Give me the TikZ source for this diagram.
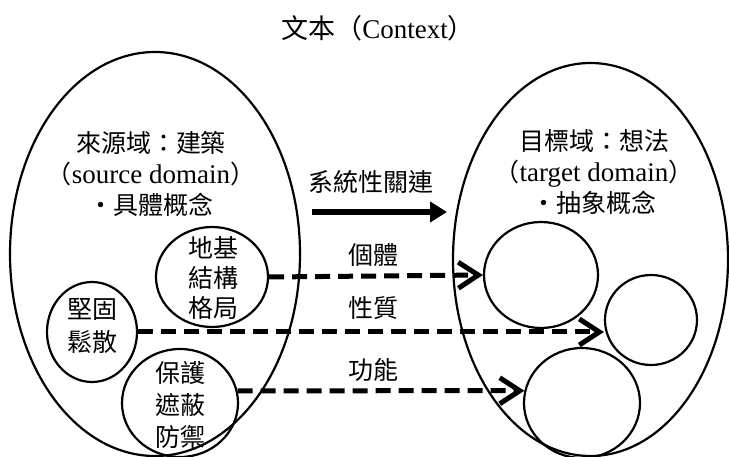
\documentclass[tikz,border=0pt]{standalone}
\usepackage{fontspec}
\setmainfont{Liberation Serif}
\newfontfamily\cjk{Noto Sans CJK TC}
\usetikzlibrary{arrows.meta,shapes.geometric}
\newcommand{\latn}[1]{{\fontsize{27}{31}\selectfont #1}}
\begin{document}
\begin{tikzpicture}[x=1pt,y=-1pt,
  dom/.style={draw, ellipse, line width=2.2pt, inner sep=0pt},
  sub/.style={draw, ellipse, line width=2.2pt, inner sep=0pt},
  lbl/.style={font=\fontsize{25}{31}\selectfont, align=center, inner sep=0pt},
  zh/.style={font=\cjk\fontsize{25}{#1}\selectfont, align=center, inner sep=0pt},
  zh/.default=31,
  dasharrow/.style={line width=5pt, dash pattern=on 15pt off 8pt, -{Straight Barb[length=20pt,width=26pt]}},
]
\useasboundingbox (0,0) rectangle (729,457);
% domains
\node[dom, minimum width=290pt, minimum height=404pt] (L) at (155,254) {};
\node[dom, minimum width=275pt, minimum height=393pt] (R) at (590.5,259.5) {};
% source circles
\node[sub, minimum width=112pt, minimum height=100pt] (c1) at (212,277) {};
\node[sub, minimum width=90pt, minimum height=100pt] (c2) at (92,332) {};
\node[sub, minimum width=116pt, minimum height=108pt] (c3) at (180,403) {};
% target circles
\node[sub, minimum width=114pt, minimum height=106pt] (t1) at (541,275) {};
\node[sub, minimum width=92pt, minimum height=90pt] (t2) at (651,320) {};
\node[sub, minimum width=116pt, minimum height=110pt] (t3) at (582,403) {};
% texts
\node[lbl, font=\fontsize{27}{31}\selectfont] (title) at (378,28) {{\cjk 文本（}Context{\cjk ）}};
\node[lbl] (srclbl) at (151,174) {{\cjk 來源域：建築}\\{\cjk （}\latn{source domain}{\cjk ）}\\{\cjk ・具體概念}};
\node[lbl] (tgtlbl) at (594,172) {{\cjk 目標域：想法}\\{\cjk （}\latn{target domain}{\cjk ）}\\{\cjk ・抽象概念}};
\node[zh] (sys) at (371,182) {系統性關連};
\node[zh] (m1) at (373,255) {個體};
\node[zh] (m2) at (373,308) {性質};
\node[zh] (m3) at (373,370) {功能};
\node[zh=30] (c1t) at (213,278) {地基\\結構\\格局};
\node[zh=33] (c2t) at (92,326) {堅固\\鬆散};
\node[zh=32] (c3t) at (180,405) {保護\\遮蔽\\防禦};
% connectors
\draw[dasharrow] (c1.east) -- (t1.west);
\draw[dasharrow] (c2.east) -- (c2.east -| t2.west);
\draw[dasharrow] (c3.12) -- (t3.168);
\coordinate (sa) at (312,212);
\coordinate (sb) at (447,212);
\draw[line width=6pt, -{Triangle[length=17pt,width=20pt]}] (sa) -- (sb);
\end{tikzpicture}
\end{document}
